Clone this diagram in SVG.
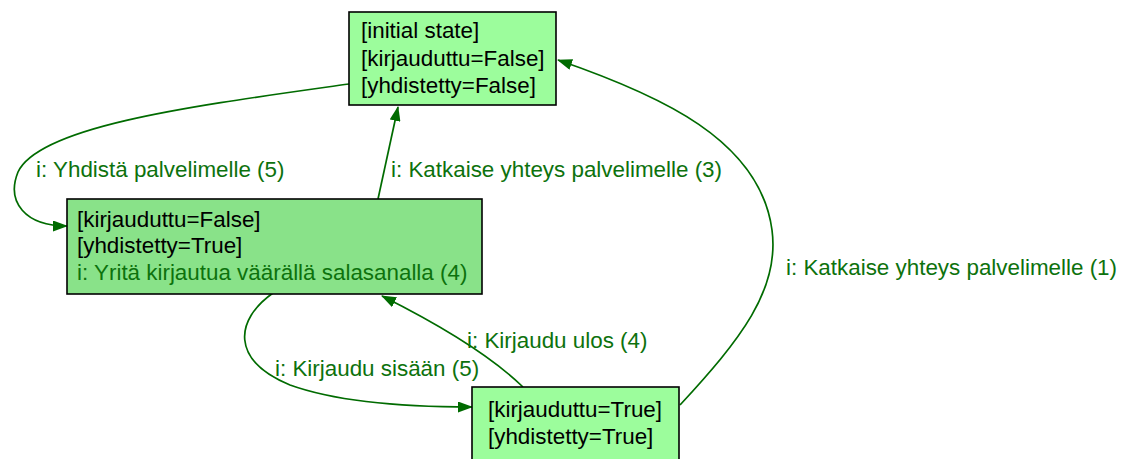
<svg xmlns="http://www.w3.org/2000/svg" width="1129" height="459" viewBox="0 0 1129 459">
  <style>
    .box { stroke: #000; stroke-width: 1.6; }
    .light { fill: #9cfd9c; }
    .mid { fill: #89e289; }
    text { font-family: "Liberation Sans", Arial, sans-serif; font-size: 22.4px; }
    .state { fill: #000; }
    .lbl { fill: #0d720d; }
    .edge { fill: none; stroke: #006b00; stroke-width: 1.7; }
  </style>
  <defs>
    <marker id="arrow" viewBox="0 0 15 11" refX="14" refY="5.5" markerWidth="15" markerHeight="11" markerUnits="userSpaceOnUse" orient="auto">
      <path d="M0,0 L15,5.5 L0,11 z" fill="#006b00"/>
    </marker>
  </defs>

  <rect width="1129" height="459" fill="#fff"/>

  <g id="connectors">
    <path class="edge" marker-end="url(#arrow)" d="M349,84 C200,105 40,125 18,172 C6,202 25,226 67,226"/>
    <path class="edge" marker-end="url(#arrow)" d="M378,199 L398,107"/>
    <path class="edge" marker-end="url(#arrow)" d="M273,293 C235,320 230,360 290,385 C340,403 410,407 472,407"/>
    <path class="edge" marker-end="url(#arrow)" d="M523,387 C490,355 440,325 382,296"/>
    <path class="edge" marker-end="url(#arrow)" d="M680,405 C740,340 780,290 772,230 C760,140 660,95 558,60"/>
    <text class="lbl" x="36" y="177">i: Yhdistä palvelimelle (5)</text>
    <text class="lbl" x="391" y="177">i: Katkaise yhteys palvelimelle (3)</text>
    <text class="lbl" x="467" y="348">i: Kirjaudu ulos (4)</text>
    <text class="lbl" x="275" y="376">i: Kirjaudu sisään (5)</text>
    <text class="lbl" x="786" y="275">i: Katkaise yhteys palvelimelle (1)</text>
  </g>

  <g id="initial">
    <rect class="box light" x="349" y="12" width="207" height="93"/>
    <text class="state" x="361" y="38">[initial state]</text>
    <text class="state" x="361" y="66">[kirjauduttu=False]</text>
    <text class="state" x="361" y="93">[yhdistetty=False]</text>
  </g>

  <g id="connected">
    <rect class="box mid" x="67" y="199" width="415" height="95"/>
    <text class="state" x="77" y="227">[kirjauduttu=False]</text>
    <text class="state" x="77" y="253">[yhdistetty=True]</text>
    <text class="lbl" x="77" y="280">i: Yritä kirjautua väärällä salasanalla (4)</text>
  </g>

  <g id="logged-in">
    <rect class="box light" x="472" y="387" width="207" height="95"/>
    <text class="state" x="488" y="417">[kirjauduttu=True]</text>
    <text class="state" x="488" y="444">[yhdistetty=True]</text>
  </g>
</svg>
